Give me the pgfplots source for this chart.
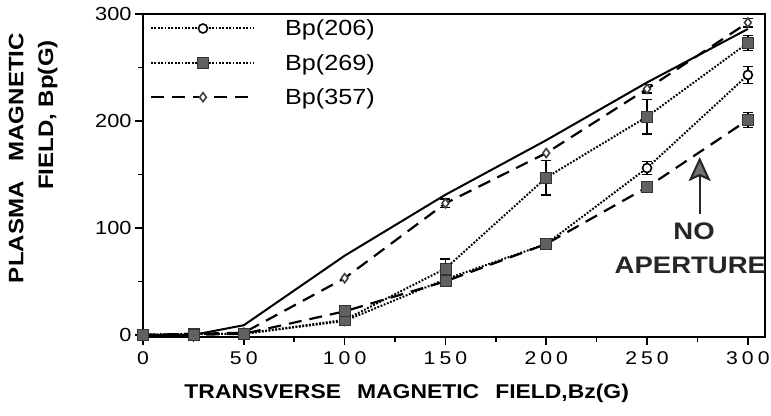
\documentclass[border=0pt]{standalone}
\usepackage{fontspec}
\setmainfont{Liberation Sans}[FakeStretch=1.15]
\newfontfamily\xtickfont{Liberation Sans}[FakeStretch=1.15,LetterSpace=22]
\usepackage{pgfplots}
\pgfplotsset{compat=1.18}
\usetikzlibrary{arrows.meta}

\tikzset{
  dotline/.style={line width=2bp, dash pattern=on 1.8bp off 1.6bp},
  dashline/.style={line width=2.2bp, dash pattern=on 13bp off 8bp},
  opencirc/.style={mark=*, mark size=4.5bp, mark options={solid, fill=white, draw=black, line width=1.6bp}},
  fillsq/.style={mark=square*, mark size=5.5bp, mark options={solid, fill=black!62, draw=black!80, line width=0.8bp}},
  opendiam/.style={mark=diamond*, mark size=4.5bp, mark options={solid, fill=white, draw=black!75, line width=1.6bp}},
}

\begin{document}
\begin{tikzpicture}
\path[use as bounding box] (-143bp,-79bp) rectangle (628bp,337bp);
\begin{axis}[
  scale only axis,
  width=622bp, height=323bp,
  xmin=0, xmax=308.5, ymin=-2, ymax=300,
  xtick={0,50,...,300}, minor x tick num=1,
  ytick={0,100,200,300}, minor y tick num=1,
  xtick pos=bottom, ytick pos=left, tick align=outside,
  major tick length=8bp, minor tick length=5bp,
  every tick/.style={black, line width=1.5bp},
  axis line style={line width=2bp},
  /pgf/number format/assume math mode=true,
  xticklabel style={font=\xtickfont\fontsize{18.5}{20}\selectfont, yshift=-3bp},
  yticklabel style={font=\fontsize{19}{21}\selectfont},
  xlabel={TRANSVERSE\hspace{16bp}MAGNETIC\hspace{16bp}FIELD,Bz(G)},
  xlabel style={at={(axis description cs:0.424,-0.173)}, anchor=center, font=\bfseries\fontsize{20}{22}\selectfont},
  clip=false,
  legend style={draw=none, fill=none, at={(axis description cs:0.006,0.995)}, anchor=north west,
    font=\fontsize{22}{24}\selectfont, row sep=13bp,
    /tikz/every odd column/.append style={column sep=28bp}},
  legend cell align=left,
  legend image code/.code={\draw[mark repeat=2,mark phase=2,#1] plot coordinates {(0bp,0bp) (52bp,0bp) (103bp,0bp)};},
]
% solid curve, no markers
\addplot[forget plot, black, line width=2bp, mark=none] coordinates {
  (0,0) (25,0) (50,9) (100,74) (150,131) (200,182) (250,236) (300,286)};

\addplot[black, dotline, opencirc] coordinates {
  (0,0) (25,1) (50,1) (100,13) (150,52) (200,85) (250,156) (300,243)};
\addlegendentry{Bp(206)}

\addplot[black, dotline, fillsq] coordinates {
  (0,0) (25,1) (50,1) (100,14) (150,62) (200,147) (250,204) (300,273)};
\addlegendentry{Bp(269)}

\addplot[black, dashline, opendiam] coordinates {
  (0,0) (25,1) (50,2) (100,53) (150,123) (200,170) (250,230) (300,292)};
\addlegendentry{Bp(357)}

% no aperture
\addplot[forget plot, black, dashline, fillsq] coordinates {
  (0,0) (25,0) (50,1) (100,22) (150,50) (200,85) (250,138) (300,201)};

% error bars
\addplot[forget plot, draw=none, mark=none,
  error bars/.cd, y dir=both, y explicit,
  error bar style={draw=black, solid, line width=1.5bp},
  error mark options={rotate=90, draw=black, solid, mark size=5bp, line width=1.5bp}]
  coordinates {
  (150,62) +- (0,9)  (200,147) +- (0,16) (250,204) +- (0,16) (300,273) +- (0,7)
  (250,156) +- (0,6) (300,243) +- (0,8)
  (150,123) +- (0,4) (250,230) +- (0,4) (300,292) +- (0,4)
  (300,201) +- (0,7)};

\node[rotate=90, font=\bfseries\fontsize{21}{23}\selectfont] at (axis description cs:-0.204,0.554) {PLASMA\hspace{20bp}MAGNETIC};
\node[rotate=90, font=\bfseries\fontsize{21}{23}\selectfont] at (axis description cs:-0.153,0.687) {FIELD, Bp(G)};

\node[font=\bfseries\fontsize{24}{26}\selectfont, black!85] at (axis description cs:0.886,0.328) {NO};
\node[font=\bfseries\fontsize{24}{26}\selectfont, black!85] at (axis description cs:0.880,0.223) {APERTURE};
\draw[line width=2bp, black!85, -{Stealth[length=24bp, width=22bp, inset=5bp, fill=black!55]}]
  (axis description cs:0.895,0.381) -- (axis description cs:0.895,0.557);
\end{axis}
\end{tikzpicture}
\end{document}
